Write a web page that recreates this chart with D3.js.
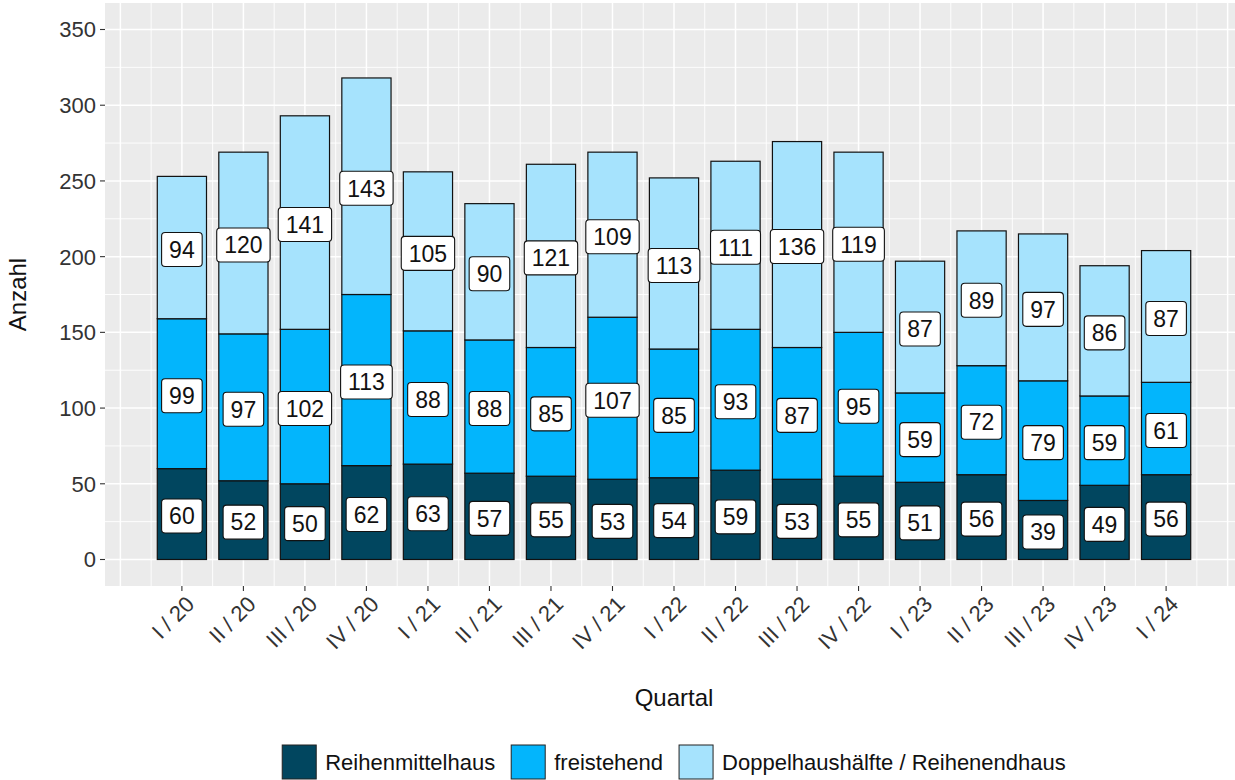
<!DOCTYPE html>
<html>
<head>
<meta charset="utf-8">
<script src="https://cdn.jsdelivr.net/npm/d3@7"></script>
<style>
  body { margin: 0; background: #fff; }
  text { font-family: "Liberation Sans", Arial, sans-serif; }
</style>
</head>
<body>
<div id="chart-container"></div>
<script>
// Data
const quarters = ["I / 20", "II / 20", "III / 20", "IV / 20", "I / 21", "II / 21", "III / 21", "IV / 21",
  "I / 22", "II / 22", "III / 22", "IV / 22", "I / 23", "II / 23", "III / 23", "IV / 23", "I / 24"];
const seriesNames = ["Reihenmittelhaus", "freistehend", "Doppelhaushälfte / Reihenendhaus"];
const reihenmittelhaus = [60, 52, 50, 62, 63, 57, 55, 53, 54, 59, 53, 55, 51, 56, 39, 49, 56];
const freistehend = [99, 97, 102, 113, 88, 88, 85, 107, 85, 93, 87, 95, 59, 72, 79, 59, 61];
const doppelhaus = [94, 120, 141, 143, 105, 90, 121, 109, 113, 111, 136, 119, 87, 89, 97, 86, 87];
const yTicks = [0, 50, 100, 150, 200, 250, 300, 350];

const colors = ["#01465f", "#03b5fc", "#a6e3fd"];

// Dimensions
const width = 1235;
const height = 780;
const panelLeft = 105;
const panelRight = 1243;
const panelTop = 3;
const panelBottom = 586;

const table = quarters.map((q, i) => ({
  q, i,
  [seriesNames[0]]: reihenmittelhaus[i],
  [seriesNames[1]]: freistehend[i],
  [seriesNames[2]]: doppelhaus[i]
}));
const stacked = d3.stack().keys(seriesNames)(table);

// Scales (x as category index, continuous, like the original)
const x = d3.scaleLinear()
    .domain([-1.25, quarters.length - 1 + 1.25])
    .range([panelLeft, panelRight]);
const y = d3.scaleLinear()
    .domain([-17.5, 367.5])
    .range([panelBottom, panelTop]);
const barW = (x(1) - x(0)) * 0.8;

const svg = d3.create("svg")
    .attr("width", width)
    .attr("height", height)
    .style("display", "block");

// Panel background
svg.append("rect")
    .attr("x", panelLeft).attr("y", panelTop)
    .attr("width", panelRight - panelLeft).attr("height", panelBottom - panelTop)
    .attr("fill", "#ebebeb");

// Grid lines
const grid = svg.append("g");
const yMinor = d3.range(-25, 375, 50).filter(v => y(v) > panelTop && y(v) < panelBottom);
grid.selectAll(".ymin").data(yMinor).join("line")
    .attr("x1", panelLeft).attr("x2", panelRight)
    .attr("y1", d => y(d)).attr("y2", d => y(d))
    .attr("stroke", "#fff").attr("stroke-width", 0.9);
grid.selectAll(".ymaj").data(yTicks).join("line")
    .attr("x1", panelLeft).attr("x2", panelRight)
    .attr("y1", d => y(d)).attr("y2", d => y(d))
    .attr("stroke", "#fff").attr("stroke-width", 1.5);
const xMinor = d3.range(-0.5, quarters.length + 0.5, 1);
grid.selectAll(".xmin").data(xMinor).join("line")
    .attr("x1", d => x(d)).attr("x2", d => x(d))
    .attr("y1", panelTop).attr("y2", panelBottom)
    .attr("stroke", "#fff").attr("stroke-width", 0.9);
const xMajor = d3.range(-1, quarters.length + 1, 1);
grid.selectAll(".xmaj").data(xMajor).join("line")
    .attr("x1", d => x(d)).attr("x2", d => x(d))
    .attr("y1", panelTop).attr("y2", panelBottom)
    .attr("stroke", "#fff").attr("stroke-width", 1.5);

// Bars
svg.append("g")
  .selectAll("g")
  .data(stacked)
  .join("g")
    .attr("fill", (d, i) => colors[i])
  .selectAll("rect")
  .data(d => d)
  .join("rect")
    .attr("x", d => x(d.data.i) - barW / 2)
    .attr("width", barW)
    .attr("y", d => y(d[1]))
    .attr("height", d => y(d[0]) - y(d[1]))
    .attr("stroke", "#111")
    .attr("stroke-width", 1.2);

// Value labels
const labelData = stacked.flatMap(s => s.map(d => ({
  x: d.data.i, mid: (d[0] + d[1]) / 2, value: d[1] - d[0]
})));
const labels = svg.append("g").selectAll("g")
  .data(labelData)
  .join("g")
    .attr("transform", d => `translate(${x(d.x)},${y(d.mid) + 2})`);
labels.append("rect")
    .attr("fill", "#fff").attr("stroke", "#111").attr("stroke-width", 1.1)
    .attr("rx", 3.5).attr("ry", 3.5);
labels.append("text")
    .attr("text-anchor", "middle")
    .attr("dy", "0.36em")
    .attr("font-size", 23)
    .attr("fill", "#111")
    .text(d => d.value);

// Y axis
const yAxis = svg.append("g");
yAxis.selectAll("line").data(yTicks).join("line")
    .attr("x1", panelLeft - 5).attr("x2", panelLeft)
    .attr("y1", d => y(d)).attr("y2", d => y(d))
    .attr("stroke", "#333").attr("stroke-width", 1.1);
yAxis.selectAll("text").data(yTicks).join("text")
    .attr("x", panelLeft - 9).attr("y", d => y(d))
    .attr("dy", "0.36em")
    .attr("text-anchor", "end")
    .attr("font-size", 22)
    .attr("fill", "#333")
    .text(d => d);

// X axis
const xAxis = svg.append("g");
xAxis.selectAll("line").data(quarters).join("line")
    .attr("x1", (d, i) => x(i)).attr("x2", (d, i) => x(i))
    .attr("y1", panelBottom).attr("y2", panelBottom + 5)
    .attr("stroke", "#333").attr("stroke-width", 1.1);
xAxis.selectAll("text").data(quarters).join("text")
    .attr("transform", (d, i) => `translate(${x(i) + 2},${panelBottom + 8}) rotate(-45)`)
    .attr("dy", "0.75em")
    .attr("text-anchor", "end")
    .attr("font-size", 22)
    .attr("fill", "#333")
    .text(d => d);

// Axis titles
svg.append("text")
    .attr("x", (panelLeft + panelRight) / 2).attr("y", 706)
    .attr("text-anchor", "middle")
    .attr("font-size", 24)
    .attr("fill", "#111")
    .text("Quartal");
svg.append("text")
    .attr("transform", `translate(26,${(panelTop + panelBottom) / 2}) rotate(-90)`)
    .attr("text-anchor", "middle")
    .attr("font-size", 24)
    .attr("fill", "#111")
    .text("Anzahl");

// Legend
const legend = svg.append("g");
const items = legend.selectAll("g").data(seriesNames).join("g");
items.append("rect")
    .attr("width", 34).attr("height", 34)
    .attr("y", -17)
    .attr("fill", (d, i) => colors[i])
    .attr("stroke", "#222").attr("stroke-width", 1);
items.append("text")
    .attr("x", 43)
    .attr("dy", "0.36em")
    .attr("font-size", 22)
    .attr("fill", "#111")
    .text(d => d);

d3.select("#chart-container").append(() => svg.node());

// Size label boxes and lay out legend after text is measured
labels.each(function () {
  const g = d3.select(this);
  const w = g.select("text").node().getComputedTextLength();
  g.select("rect")
    .attr("x", -w / 2 - 7.5).attr("width", w + 15)
    .attr("y", -17).attr("height", 34);
});
let offset = 0;
const widths = [];
items.each(function () {
  const w = d3.select(this).select("text").node().getComputedTextLength();
  widths.push(43 + w);
});
const total = d3.sum(widths) + 16 * (widths.length - 1);
let cx = (panelLeft + panelRight) / 2 - total / 2;
items.attr("transform", (d, i) => {
  const t = `translate(${cx},762)`;
  cx += widths[i] + 16;
  return t;
});
</script>
</body>
</html>
